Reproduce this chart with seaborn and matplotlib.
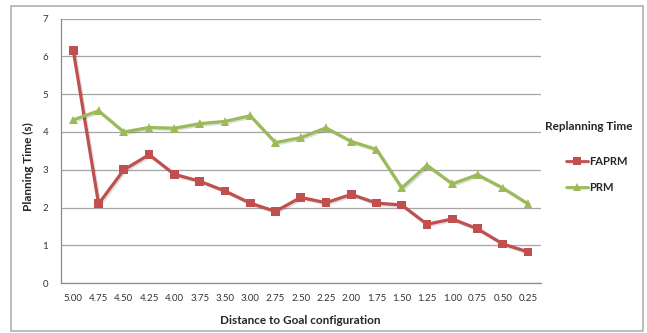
import pandas as pd
import matplotlib.pyplot as plt
import matplotlib.patheffects as pe
from matplotlib.patches import Rectangle
import seaborn as sns

# distance to goal (x categories)
distances = ["5.00", "4.75", "4.50", "4.25", "4.00", "3.75", "3.50", "3.00", "2.75",
             "2.50", "2.25", "2.00", "1.75", "1.50", "1.25", "1.00", "0.75", "0.50", "0.25"]
faprm = [6.15, 2.10, 3.00, 3.40, 2.88, 2.70, 2.44, 2.12, 1.90,
         2.27, 2.13, 2.35, 2.12, 2.07, 1.56, 1.70, 1.44, 1.04, 0.83]
prm = [4.32, 4.56, 4.00, 4.12, 4.10, 4.22, 4.28, 4.43, 3.72,
       3.85, 4.11, 3.75, 3.54, 2.52, 3.12, 2.63, 2.87, 2.52, 2.10]

df = pd.DataFrame({
    "distance": distances * 2,
    "time": faprm + prm,
    "method": ["FAPRM"] * len(faprm) + ["PRM"] * len(prm),
})

sns.set_style("white")
plt.rcParams["font.family"] = ["Lato", "DejaVu Sans"]

RED = "#C0504D"
GREEN = "#9BBB59"

fig = plt.figure(figsize=(6.47, 3.33), dpi=100)
ax = fig.add_axes([0.0938, 0.1493, 0.7419, 0.7951])

shadow = [pe.SimpleLineShadow(offset=(1.0, -1.0), alpha=0.13), pe.Normal()]
sns.lineplot(data=df, x="distance", y="time", hue="method", style="method",
             palette={"FAPRM": RED, "PRM": GREEN},
             markers={"FAPRM": "s", "PRM": "^"}, dashes=False,
             markersize=6.3, markeredgewidth=0, linewidth=2.3, sort=False, ax=ax)
for ln in ax.lines:
    ln.set_path_effects(shadow)

ax.set_xlim(-0.5, len(distances) - 0.5)
ax.set_ylim(0, 7)
ax.set_yticks(range(0, 8))
ax.grid(axis="y", color="#a6a6a6", linewidth=0.9)
ax.set_axisbelow(True)
for s in ["top", "right"]:
    ax.spines[s].set_visible(False)
for s in ["left", "bottom"]:
    ax.spines[s].set_color("#8c8c8c")
    ax.spines[s].set_linewidth(0.9)

ax.set_xticks(range(len(distances)))
ax.set_xticklabels(distances)
ax.set_xticks([i - 0.5 for i in range(len(distances) + 1)], minor=True)
ax.tick_params(axis="x", which="major", length=0, pad=8, labelsize=7, colors="#333333")
ax.tick_params(axis="x", which="minor", length=3, width=0.8, color="#8c8c8c", direction="out")
ax.tick_params(axis="y", which="major", length=3, width=0.8, color="#8c8c8c",
               labelsize=7, colors="#333333", pad=6)

ax.set_xlabel("Distance to Goal configuration", fontsize=8.5, fontweight="bold")
ax.set_ylabel("Planning Time (s)", fontsize=8.5, fontweight="bold")
ax.xaxis.set_label_coords(0.5, -0.118)
ax.yaxis.set_label_coords(-0.056, 0.44)

leg = ax.legend(loc="upper left", bbox_to_anchor=(0.859, 0.562),
                bbox_transform=fig.transFigure, frameon=False, fontsize=8,
                handlelength=2.0, handletextpad=0.1, labelspacing=1.35)
for t in leg.get_texts():
    t.set_fontweight("bold")
for h in leg.legend_handles:
    h.set_markersize(6)
    h.set_linewidth(2)
fig.text(589 / 647, 1 - 127 / 333, "Replanning Time", ha="center", va="center",
         fontsize=8.5, fontweight="bold")

# chart border
fig.patches.append(Rectangle((11 / 647, 2 / 333), 632 / 647, 325 / 333,
                             transform=fig.transFigure, fill=False,
                             edgecolor="#b0b0b0", linewidth=1.2))

fig.savefig("out.png", dpi=100)
